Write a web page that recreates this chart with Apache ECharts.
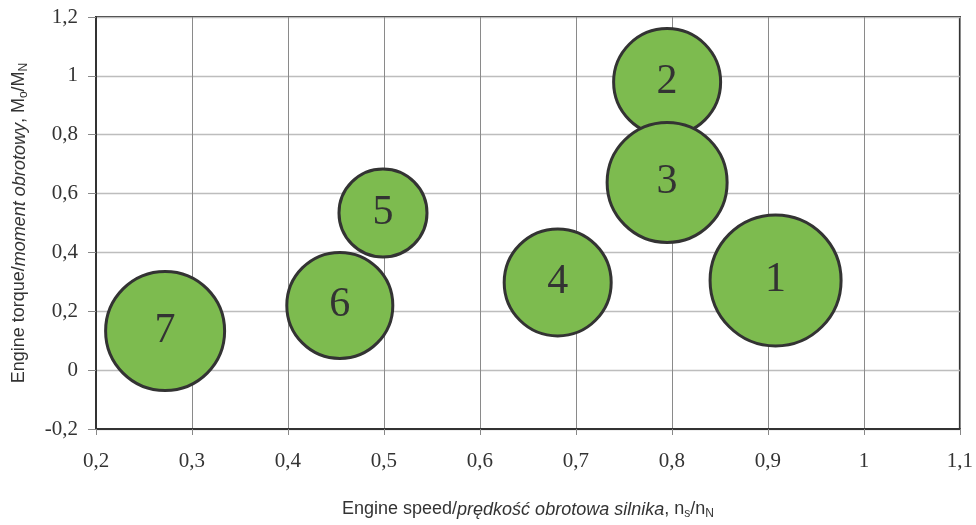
<!DOCTYPE html>
<html>
<head>
<meta charset="utf-8">
<script src="https://cdn.jsdelivr.net/npm/echarts@6/dist/echarts.min.js"></script>
<style>
  html, body { margin: 0; padding: 0; background: #fff; }
  #chart { width: 976px; height: 525px; }
</style>
</head>
<body>
<div id="chart"></div>
<script>
// Operating points: engine speed n_s/n_N, engine torque M_o/M_N, bubble weight
const pointLabels = ['1', '2', '3', '4', '5', '6', '7'];
const speedRatio  = [0.908, 0.795, 0.795, 0.681, 0.499, 0.454, 0.272];
const torqueRatio = [0.305, 0.979, 0.638, 0.298, 0.534, 0.220, 0.133];
const bubbleWeight = [13.1, 10.7, 12.0, 10.7, 8.8, 10.6, 11.9];

const xTicks = [0.2, 0.3, 0.4, 0.5, 0.6, 0.7, 0.8, 0.9, 1.0, 1.1];
const yTicks = [-0.2, 0, 0.2, 0.4, 0.6, 0.8, 1.0, 1.2];

const seriesData = pointLabels.map((name, i) => ({
  name: name,
  value: [speedRatio[i], torqueRatio[i], bubbleWeight[i]]
}));

// Decimal comma, as in the Polish notation
const fmt = v => {
  const r = Math.round(v * 10) / 10;
  return String(r).replace('.', ',');
};

const serif = '"Liberation Serif", "DejaVu Serif", serif';
const sans = '"Liberation Sans", Arial, sans-serif';

const nameRich = {
  n: { fontFamily: sans, fontSize: 18, color: '#333' },
  i: { fontFamily: sans, fontSize: 18, fontStyle: 'italic', color: '#333' },
  s: { fontFamily: sans, fontSize: 12, color: '#333', verticalAlign: 'bottom', padding: [9, 0, 0, 0] }
};

const chart = echarts.init(document.getElementById('chart'), null, { renderer: 'canvas' });

chart.setOption({
  animation: false,
  backgroundColor: '#ffffff',
  grid: {
    left: 96, right: 16, top: 17, bottom: 93,
    show: true, borderColor: '#333', borderWidth: 2, backgroundColor: 'transparent'
  },
  xAxis: {
    type: 'value',
    min: xTicks[0], max: xTicks[xTicks.length - 1], interval: 0.1,
    axisLine: { show: true, onZero: false, lineStyle: { color: '#333', width: 2 } },
    axisTick: { show: true, inside: false, length: 6, lineStyle: { color: '#888' } },
    axisLabel: { formatter: fmt, color: '#333', fontFamily: serif, fontSize: 21, margin: 22 },
    splitLine: { show: true, lineStyle: { color: '#8a8a8a', width: 1 } },
    name: '{n|Engine speed/}{i|prędkość obrotowa silnika}{n|, n}{s|s}{n|/n}{s|N}',
    nameLocation: 'middle',
    nameGap: 70,
    nameTextStyle: { rich: nameRich }
  },
  yAxis: {
    type: 'value',
    min: yTicks[0], max: yTicks[yTicks.length - 1], interval: 0.2,
    axisLine: { show: true, onZero: false, lineStyle: { color: '#333', width: 2 } },
    axisTick: { show: true, inside: false, length: 8, lineStyle: { color: '#888' } },
    axisLabel: { formatter: fmt, color: '#333', fontFamily: serif, fontSize: 21, margin: 18 },
    splitLine: { show: true, lineStyle: { color: '#bdbdbd', width: 1.3 } },
    name: '{n|Engine torque/}{i|moment obrotowy}{n|, M}{s|o}{n|/M}{s|N}',
    nameLocation: 'middle',
    nameRotate: 90,
    nameGap: 66,
    nameTextStyle: { rich: nameRich }
  },
  series: [{
    type: 'scatter',
    data: seriesData,
    symbol: 'circle',
    symbolSize: v => v[2] * 10,
    itemStyle: { color: '#7dbb4f', borderColor: '#333', borderWidth: 3, opacity: 1 },
    label: {
      show: true,
      position: 'inside',
      formatter: p => p.name,
      fontFamily: serif,
      fontSize: 42,
      color: '#333'
    },
    emphasis: { disabled: true }
  }]
});
</script>
</body>
</html>
